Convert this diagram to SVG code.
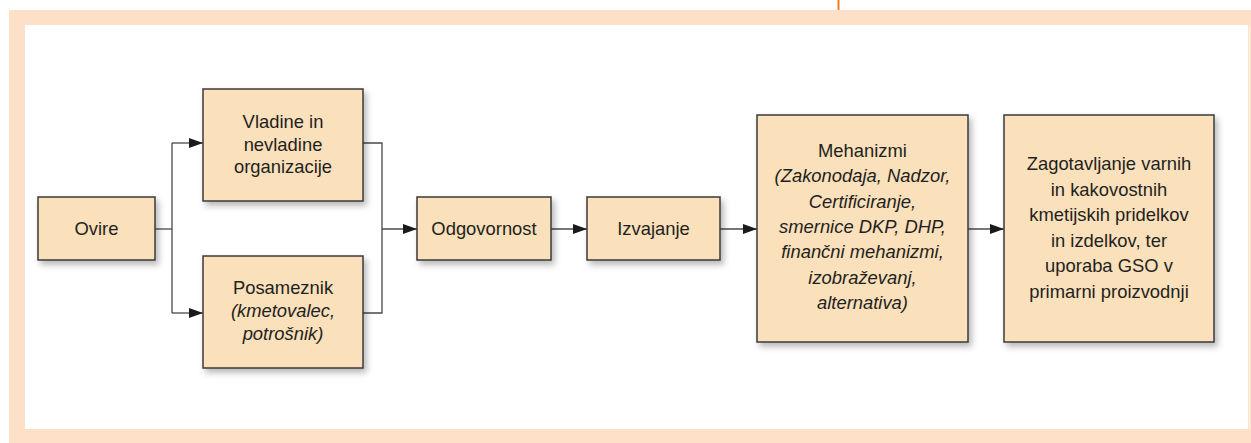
<svg xmlns="http://www.w3.org/2000/svg" width="1251" height="443" viewBox="0 0 1251 443">
<defs>
<style>
.box{fill:#fae0bb;stroke:#3a3a3a;stroke-width:1.5;filter:url(#sh)}
.t{font-family:"Liberation Sans",Arial,sans-serif;font-size:18.4px;fill:#231f20;text-anchor:middle}
.i{font-style:italic}
.c{fill:none;stroke:#4a4a4a;stroke-width:1.3}
</style>
<filter id="sh" x="-10%" y="-10%" width="130%" height="130%">
<feDropShadow dx="3" dy="4" stdDeviation="3" flood-color="#000" flood-opacity="0.28"/>
</filter>
<marker id="ar" markerWidth="14" markerHeight="10" refX="14" refY="5" orient="auto" markerUnits="userSpaceOnUse">
<path d="M0,0 L14,5 L0,10 Z" fill="#1a1a1a"/>
</marker>
</defs>
<rect x="0" y="0" width="1251" height="443" fill="#fff"/>
<rect x="9" y="10" width="1242" height="433" fill="#fee0c8"/>
<rect x="25" y="25" width="1223" height="404" fill="#fff"/>
<line x1="1249.5" y1="25" x2="1249.5" y2="429" stroke="#fff3ea" stroke-width="1"/>
<line x1="838.5" y1="0" x2="838.5" y2="10" stroke="#ee7d23" stroke-width="2"/>
<g id="connectors">
<polyline class="c" points="155,229 172,229"/>
<polyline class="c" points="172,143 172,313"/>
<polyline class="c" points="172,143 203,143" marker-end="url(#ar)"/>
<polyline class="c" points="172,313 203,313" marker-end="url(#ar)"/>
<polyline class="c" points="363,143 382,143 382,313 363,313"/>
<polyline class="c" points="382,229 417,229" marker-end="url(#ar)"/>
<polyline class="c" points="551,229 587,229" marker-end="url(#ar)"/>
<polyline class="c" points="720,229 757,229" marker-end="url(#ar)"/>
<polyline class="c" points="968,229 1004,229" marker-end="url(#ar)"/>
</g>
<g id="ovire">
<rect class="box" x="38" y="197" width="117" height="63"/>
<text class="t" x="96.5" y="235">Ovire</text>
</g>
<g id="vladine">
<rect class="box" x="203" y="89" width="160" height="112"/>
<text class="t" x="283" y="128">Vladine in</text>
<text class="t" x="283" y="151">nevladine</text>
<text class="t" x="283" y="173">organizacije</text>
</g>
<g id="posameznik">
<rect class="box" x="203" y="256" width="160" height="112"/>
<text class="t" x="283" y="294">Posameznik</text>
<text class="t i" x="283" y="317">(kmetovalec,</text>
<text class="t i" x="283" y="340">potrošnik)</text>
</g>
<g id="odgovornost">
<rect class="box" x="417" y="197" width="134" height="63"/>
<text class="t" x="484" y="235">Odgovornost</text>
</g>
<g id="izvajanje">
<rect class="box" x="587" y="197" width="133" height="63"/>
<text class="t" x="653.5" y="235">Izvajanje</text>
</g>
<g id="mehanizmi">
<rect class="box" x="757" y="115" width="211" height="227"/>
<text class="t" x="862.5" y="157">Mehanizmi</text>
<text class="t i" x="862.5" y="182">(Zakonodaja, Nadzor,</text>
<text class="t i" x="862.5" y="207.5">Certificiranje,</text>
<text class="t i" x="862.5" y="233">smernice DKP, DHP,</text>
<text class="t i" x="862.5" y="258">finančni mehanizmi,</text>
<text class="t i" x="862.5" y="284">izobraževanj,</text>
<text class="t i" x="862.5" y="309">alternativa)</text>
</g>
<g id="zagotavljanje">
<rect class="box" x="1004" y="115" width="210" height="227"/>
<text class="t" x="1109" y="170">Zagotavljanje varnih</text>
<text class="t" x="1109" y="195.5">in kakovostnih</text>
<text class="t" x="1109" y="221">kmetijskih pridelkov</text>
<text class="t" x="1109" y="246.5">in izdelkov, ter</text>
<text class="t" x="1109" y="272">uporaba GSO v</text>
<text class="t" x="1109" y="297.5">primarni proizvodnji</text>
</g>
</svg>
